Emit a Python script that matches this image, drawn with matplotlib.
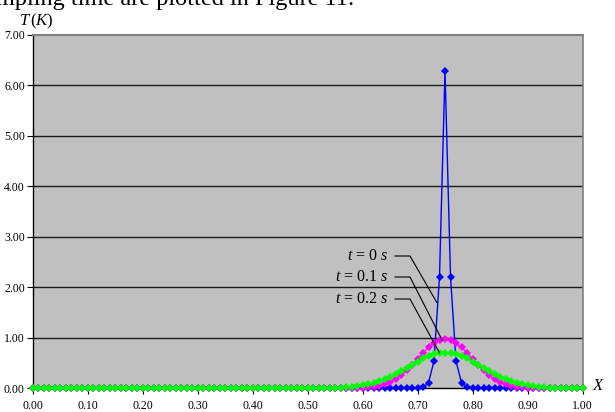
import numpy as np
import matplotlib
matplotlib.use("Agg")
import matplotlib.pyplot as plt

plt.rcParams["font.family"] = ["Liberation Serif", "DejaVu Serif"]
plt.rcParams["mathtext.fontset"] = "custom"
plt.rcParams["mathtext.rm"] = "Liberation Serif"
plt.rcParams["mathtext.it"] = "Liberation Serif:italic"

# Positions along the rod, step 0.01
x_positions = np.round(np.arange(0, 101) * 0.01, 2)

# Temperature profiles (K); all values not listed are zero
t0_nonzero = {0.71: 0.02, 0.72: 0.11, 0.73: 0.54, 0.74: 2.21, 0.75: 6.28,
              0.76: 2.21, 0.77: 0.54, 0.78: 0.11, 0.79: 0.02}
t01_nonzero = {0.60: 0.01, 0.61: 0.02, 0.62: 0.03, 0.63: 0.05, 0.64: 0.08,
               0.65: 0.12, 0.66: 0.18, 0.67: 0.26, 0.68: 0.36, 0.69: 0.46,
               0.70: 0.58, 0.71: 0.70, 0.72: 0.81, 0.73: 0.89, 0.74: 0.95,
               0.75: 0.97, 0.76: 0.95, 0.77: 0.89, 0.78: 0.81, 0.79: 0.70,
               0.80: 0.58, 0.81: 0.46, 0.82: 0.36, 0.83: 0.26, 0.84: 0.18,
               0.85: 0.12, 0.86: 0.08, 0.87: 0.05, 0.88: 0.03, 0.89: 0.02,
               0.90: 0.01}
t02_nonzero = {0.55: 0.01, 0.56: 0.01, 0.57: 0.02, 0.58: 0.03, 0.59: 0.04,
               0.60: 0.06, 0.61: 0.08, 0.62: 0.11, 0.63: 0.14, 0.64: 0.18,
               0.65: 0.23, 0.66: 0.29, 0.67: 0.35, 0.68: 0.41, 0.69: 0.47,
               0.70: 0.53, 0.71: 0.59, 0.72: 0.63, 0.73: 0.67, 0.74: 0.69,
               0.75: 0.70, 0.76: 0.69, 0.77: 0.67, 0.78: 0.63, 0.79: 0.59,
               0.80: 0.53, 0.81: 0.47, 0.82: 0.41, 0.83: 0.35, 0.84: 0.29,
               0.85: 0.23, 0.86: 0.18, 0.87: 0.14, 0.88: 0.11, 0.89: 0.08,
               0.90: 0.06, 0.91: 0.04, 0.92: 0.03, 0.93: 0.02, 0.94: 0.01,
               0.95: 0.01}

def profile(nonzero):
    return np.array([nonzero.get(float(v), 0.0) for v in x_positions])

T_t0 = profile(t0_nonzero)
T_t01 = profile(t01_nonzero)
T_t02 = profile(t02_nonzero)

x_ticks = [0.00, 0.10, 0.20, 0.30, 0.40, 0.50, 0.60, 0.70, 0.80, 0.90, 1.00]
y_ticks = [0.00, 1.00, 2.00, 3.00, 4.00, 5.00, 6.00, 7.00]

fig = plt.figure(figsize=(6.15, 4.12), dpi=100)
ax = fig.add_axes([32.5 / 615, (412 - 388.3) / 412, 550 / 615, (388.3 - 34.5) / 412])
ax.set_facecolor("#C0C0C0")

for yv in y_ticks[1:-1]:
    ax.axhline(yv, color="#1a1a1a", lw=1.0, zorder=1)

series = [(T_t0, "#0000FF"), (T_t01, "#FF00FF"), (T_t02, "#00FF00")]
for i, (vals, col) in enumerate(series):
    ax.plot(x_positions, vals, color=col, lw=1.0, marker="D", markersize=4.2,
            markeredgewidth=0, zorder=3 + i, clip_on=False)

ax.set_xlim(0, 1)
ax.set_ylim(0, 7)
ax.set_xticks(x_ticks)
ax.set_xticklabels([f"{v:.2f}" for v in x_ticks])
ax.set_yticks(y_ticks)
ax.set_yticklabels([f"{v:.2f}" for v in y_ticks])
ax.tick_params(axis="both", labelsize=8.5, direction="out", length=4, width=0.8,
               color="black")
ax.tick_params(axis="x", pad=4.5)
ax.tick_params(axis="y", pad=1.5)

ax.spines["left"].set_color("black")
ax.spines["bottom"].set_color("black")
ax.spines["left"].set_linewidth(1.0)
ax.spines["bottom"].set_linewidth(1.0)
ax.spines["top"].set_color("#808080")
ax.spines["right"].set_color("#808080")
ax.spines["top"].set_linewidth(1.5)
ax.spines["right"].set_linewidth(1.2)

# Curve labels with leader lines
labels = [(r"$t$ = 0 $s$", 256, (0.735, 1.70)),
          (r"$t$ = 0.1 $s$", 277, (0.745, 0.95)),
          (r"$t$ = 0.2 $s$", 299, (0.740, 0.70))]
for text, ypix, end in labels:
    y_data = (388.3 - ypix) / ((388.3 - 34.5) / 7)
    x_text = (388 - 32.5) / 550
    x_knee0 = (395 - 32.5) / 550
    x_knee1 = (410 - 32.5) / 550
    ax.text(x_text, y_data, text, ha="right", va="center", fontsize=11.5,
            zorder=6)
    ax.plot([x_knee0, x_knee1, end[0]], [y_data, y_data, end[1]],
            color="black", lw=0.8, zorder=6)

fig.text(19 / 615, 1 - 25 / 412, r"$T\,(K)$", fontsize=12, ha="left",
         va="baseline")
fig.text(592 / 615, 1 - 390 / 412, r"$X$", fontsize=12, ha="left",
         va="baseline")
fig.text(-4 / 615, 1 - 5 / 412, "mpling time are plotted in Figure 11.",
         fontsize=17.5, ha="left", va="baseline")

fig.savefig("out.png", dpi=100)
